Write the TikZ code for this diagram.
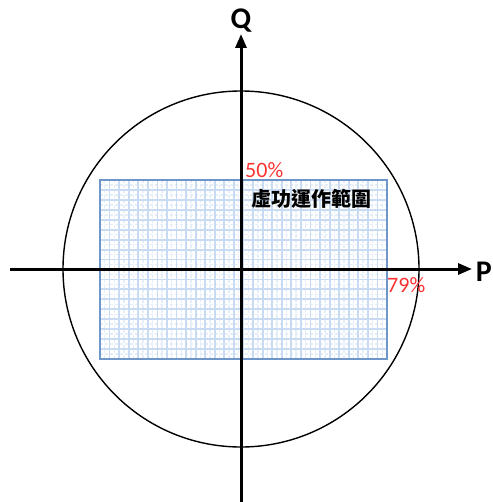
\documentclass[tikz,border=0pt]{standalone}
\usepackage{fontspec}
\setmainfont{Carlito}
\newfontfamily\cjk{Noto Sans CJK TC}
\usetikzlibrary{arrows.meta}
\definecolor{gridblue}{RGB}{200,219,242}
\definecolor{gridfaint}{RGB}{230,238,248}
\definecolor{boxblue}{RGB}{110,150,200}
\definecolor{pctred}{RGB}{250,50,50}
\begin{document}
\begin{tikzpicture}[x=1pt,y=-1pt,
  axis/.style={line width=3pt,-{Triangle[length=14pt,width=11pt]}},
  pct/.style={text=pctred,font=\fontsize{22}{24}\selectfont,inner sep=0pt},
  axlabel/.style={font=\fontsize{30}{32}\selectfont\bfseries,inner sep=0pt}]
\useasboundingbox (0,0) rectangle (492,502);
% grid region
\foreach \i in {0,...,29} {
  \pgfmathsetmacro\xx{104.78+\i*9.5667}
  \draw[gridfaint,line width=1.4pt,dash pattern=on 3pt off 2pt] (\xx,180) -- (\xx,359);
}
\foreach \j in {0,...,17} {
  \pgfmathsetmacro\yy{184.97+\j*9.9444}
  \draw[gridfaint,line width=1.4pt,dash pattern=on 3pt off 2pt] (100,\yy) -- (387,\yy);
}
\foreach \i in {1,...,29} {
  \pgfmathsetmacro\xx{100+\i*9.5667}
  \draw[gridblue,line width=1.8pt] (\xx,180) -- (\xx,359);
}
\foreach \j in {1,...,17} {
  \pgfmathsetmacro\yy{180+\j*9.9444}
  \draw[gridblue,line width=1.8pt] (100,\yy) -- (387,\yy);
}
\node[draw=boxblue,line width=1.1pt,minimum width=287pt,minimum height=179pt,inner sep=0pt] (box) at (243.5,269.5) {};
% circle
\node[draw=black,line width=1.4pt,circle,minimum size=356pt,inner sep=0pt] (circ) at (241,269) {};
% axes
\coordinate (xs) at (10,269);
\coordinate (xe) at (472,269);
\coordinate (ys) at (241,502);
\coordinate (ye) at (241,34);
\draw[axis] (xs) -- (xe);
\draw[axis] (ys) -- (ye);
\node[axlabel,anchor=east] (P) at (492,272) {P};
\node[axlabel] (Q) at (241,21) {Q};
% labels
\node[pct,anchor=west] (p50) at (245,170) {50\%};
\node[pct,anchor=west] (p79) at (387,285) {79\%};
\node[inner sep=0pt,font=\cjk\bfseries\fontsize{20}{22}\selectfont] (lab) at (311,199) {虛功運作範圍};
\end{tikzpicture}
\end{document}
